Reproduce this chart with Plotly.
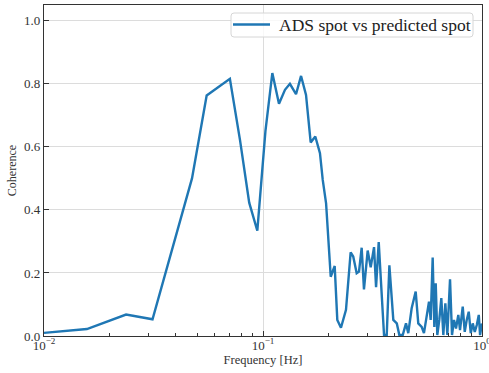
import plotly.graph_objects as go

# Coherence between ADS spot and predicted spot
freq_hz = [
    0.0100, 0.0157, 0.0237, 0.0313, 0.0474, 0.0553, 0.0706, 0.0785, 0.0865, 0.0942,
    0.1026, 0.1103, 0.1183, 0.1260, 0.1327, 0.1415, 0.1492, 0.1572, 0.1651, 0.1733,
    0.1820, 0.1874, 0.1941, 0.2038, 0.2125, 0.2184, 0.2270, 0.2393, 0.2513, 0.2582,
    0.2678, 0.2744, 0.2822, 0.2891, 0.3006, 0.3103, 0.3214, 0.3283, 0.3376, 0.3570,
    0.3673, 0.3776, 0.3936, 0.4083, 0.4193, 0.4345, 0.4498, 0.4606, 0.4773, 0.4980,
    0.5117, 0.5303, 0.5432, 0.5728, 0.5830, 0.5954, 0.6058, 0.6147, 0.6250, 0.6383,
    0.6520, 0.6659, 0.6802, 0.6946, 0.7145, 0.7296, 0.7451, 0.7609, 0.7794, 0.7937,
    0.8166, 0.8340, 0.8518, 0.8699, 0.8885, 0.9074, 0.9268, 0.9466, 0.9668, 0.9800,
    1.0000,
]
coherence = [
    0.010, 0.022, 0.068, 0.053, 0.500, 0.763, 0.816, 0.622, 0.423, 0.334,
    0.650, 0.834, 0.737, 0.781, 0.800, 0.767, 0.825, 0.765, 0.614, 0.633,
    0.580, 0.495, 0.421, 0.188, 0.222, 0.051, 0.026, 0.083, 0.265, 0.252,
    0.199, 0.204, 0.280, 0.148, 0.271, 0.218, 0.282, 0.155, 0.298, 0.003,
    0.003, 0.224, 0.051, 0.040, 0.003, 0.003, 0.040, 0.009, 0.088, 0.141,
    0.040, 0.029, 0.009, 0.109, 0.051, 0.249, 0.029, 0.167, 0.003, 0.051,
    0.120, 0.003, 0.104, 0.003, 0.180, 0.003, 0.051, 0.024, 0.067, 0.019,
    0.093, 0.013, 0.051, 0.077, 0.009, 0.040, 0.013, 0.035, 0.067, 0.003,
    0.040,
]
series_name = "ADS spot vs predicted spot"

x_major = [0.01, 0.1, 1.0]
x_major_text = ["10<sup>−2</sup>", "10<sup>−1</sup>", "10<sup>0</sup>"]
y_major = [0.0, 0.2, 0.4, 0.6, 0.8, 1.0]
y_major_text = ["0.0", "0.2", "0.4", "0.6", "0.8", "1.0"]

# minor ticks at 2..9 within each decade
x_minor = [m * d for d in (0.01, 0.1) for m in range(2, 10)]

serif = "Liberation Serif, Times New Roman, serif"
axis_color = "#333333"
line_color = "#1f77b4"

W, H = 489, 373
M = dict(l=44, r=7, t=5, b=37)
plot_w = W - M["l"] - M["r"]
plot_h = H - M["t"] - M["b"]


def px_to_paper(px, py):
    """Convert a page pixel position to paper coordinates of the plot area."""
    return (px - M["l"]) / plot_w, (H - M["b"] - py) / plot_h


def rounded_box(x0, y0, x1, y1, r):
    """SVG path (paper coords) of a rounded rectangle given in page pixels."""
    pts = []
    ax0, ay0 = px_to_paper(x0, y0)
    ax1, ay1 = px_to_paper(x1, y1)
    rx = r / plot_w
    ry = r / plot_h
    pts.append(f"M {ax0 + rx} {ay0}")
    pts.append(f"L {ax1 - rx} {ay0}")
    pts.append(f"Q {ax1} {ay0} {ax1} {ay0 - ry}")
    pts.append(f"L {ax1} {ay1 + ry}")
    pts.append(f"Q {ax1} {ay1} {ax1 - rx} {ay1}")
    pts.append(f"L {ax0 + rx} {ay1}")
    pts.append(f"Q {ax0} {ay1} {ax0} {ay1 + ry}")
    pts.append(f"L {ax0} {ay0 - ry}")
    pts.append(f"Q {ax0} {ay0} {ax0 + rx} {ay0}")
    pts.append("Z")
    return " ".join(pts)


fig = go.Figure()
fig.add_trace(go.Scatter(
    x=freq_hz, y=coherence, mode="lines", name=series_name,
    line=dict(color=line_color, width=2.4),
    showlegend=False,
))

# legend box, sample line and label
lx0, ly0 = px_to_paper(233, 24.5)
lx1, _ = px_to_paper(270, 24.5)
tx, ty = px_to_paper(277, 24.5)
fig.add_shape(type="path", xref="paper", yref="paper",
              path=rounded_box(231, 13, 473, 37, 3),
              fillcolor="rgba(255,255,255,0.8)",
              line=dict(color="#d6d6d6", width=1), layer="above")
fig.add_shape(type="line", xref="paper", yref="paper",
              x0=lx0, x1=lx1, y0=ly0, y1=ly0,
              line=dict(color=line_color, width=2.4), layer="above")
fig.add_annotation(xref="paper", yref="paper", x=tx, y=ty,
                   xanchor="left", yanchor="middle", showarrow=False,
                   text=series_name,
                   font=dict(family=serif, size=17.5, color="#222222"))

fig.update_layout(
    width=W, height=H,
    margin=dict(M, autoexpand=False),
    paper_bgcolor="white", plot_bgcolor="white",
    font=dict(family=serif, color=axis_color, size=13),
    showlegend=False,
)

fig.update_xaxes(
    type="log", range=[-2, 0],
    automargin=False,
    tickmode="array", tickvals=x_major, ticktext=x_major_text,
    ticks="inside", ticklen=5, tickwidth=1, tickcolor=axis_color,
    ticklabeloverflow="allow", ticklabelstandoff=-3,
    showline=True, linecolor=axis_color, linewidth=1.3, mirror=True,
    showgrid=True, gridcolor="#dcdcdc", gridwidth=1,
    zeroline=False,
    tickfont=dict(family=serif, size=13),
    minor=dict(tickmode="array", tickvals=x_minor, ticks="inside",
               ticklen=2.5, tickcolor=axis_color, showgrid=False),
    title=dict(text="Frequency [Hz]", font=dict(family=serif, size=12.5), standoff=3),
)
fig.update_yaxes(
    range=[0, 1.05],
    automargin=False,
    tickmode="array", tickvals=y_major, ticktext=y_major_text,
    ticks="inside", ticklen=5, tickwidth=1, tickcolor=axis_color,
    showline=True, linecolor=axis_color, linewidth=1.3, mirror=True,
    showgrid=True, gridcolor="#dcdcdc", gridwidth=1,
    zeroline=False,
    tickfont=dict(family=serif, size=13),
    title=dict(text="Coherence", font=dict(family=serif, size=12), standoff=4),
)

fig.write_html("out.html")
